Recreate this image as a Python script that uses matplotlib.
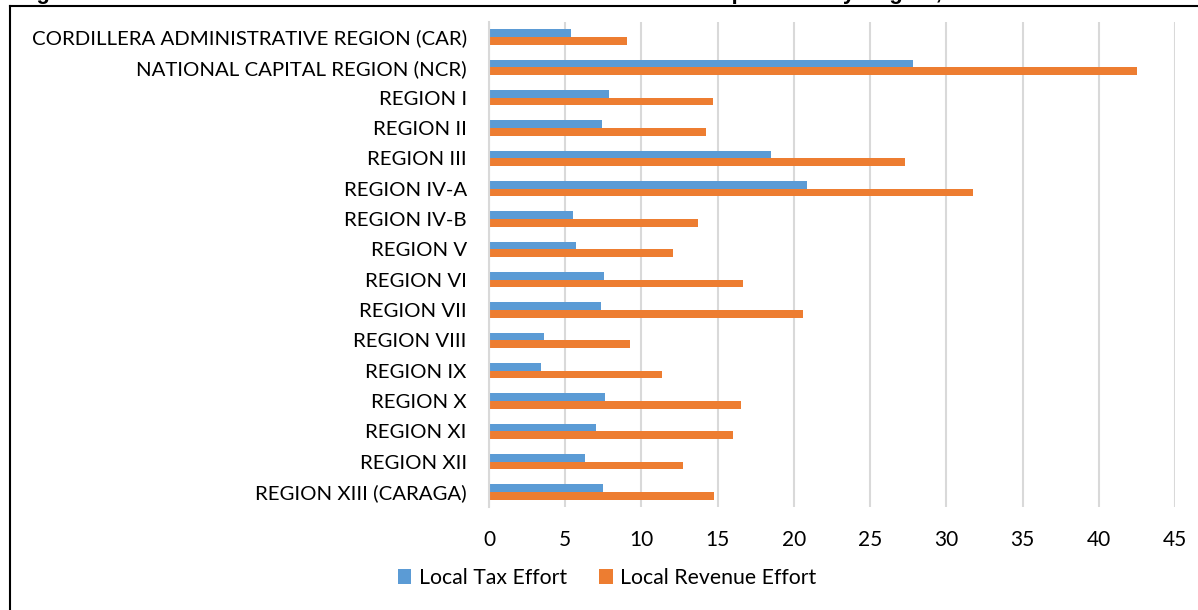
import matplotlib
matplotlib.use('Agg')
import matplotlib.pyplot as plt
from matplotlib.lines import Line2D
import numpy as np

regions = [
    "CORDILLERA ADMINISTRATIVE REGION (CAR)",
    "NATIONAL CAPITAL REGION (NCR)",
    "REGION I",
    "REGION II",
    "REGION III",
    "REGION IV-A",
    "REGION IV-B",
    "REGION V",
    "REGION VI",
    "REGION VII",
    "REGION VIII",
    "REGION IX",
    "REGION X",
    "REGION XI",
    "REGION XII",
    "REGION XIII (CARAGA)",
]
local_tax_effort = [5.36, 27.83, 7.89, 7.41, 18.49, 20.84, 5.53, 5.69,
                    7.56, 7.35, 3.58, 3.43, 7.59, 7.05, 6.30, 7.50]
local_revenue_effort = [9.04, 42.50, 14.67, 14.25, 27.26, 31.72, 13.70, 12.05,
                        16.66, 20.57, 9.28, 11.33, 16.54, 16.02, 12.71, 14.73]
x_ticks = [0, 5, 10, 15, 20, 25, 30, 35, 40, 45]
series_names = ["Local Tax Effort", "Local Revenue Effort"]
title = ("Figure 4. Mean Local Tax Effort and Mean Local Revenue Effort "
         "Comparisons by Region, 2016")

W, H = 1198, 610
plt.rcParams['font.family'] = ['Lato', 'DejaVu Sans']

fig = plt.figure(figsize=(W / 100, H / 100), dpi=100)
ax = fig.add_axes([489 / W, 1 - 507 / H, (1175 - 489) / W, (507 - 22) / H])

y = np.arange(len(regions))
h = 0.254
b1 = ax.barh(y - h / 2, local_tax_effort, height=h, color='#5B9BD5', label=series_names[0])
b2 = ax.barh(y + h / 2, local_revenue_effort, height=h, color='#ED7D31', label=series_names[1])

ax.set_ylim(len(regions) - 0.5, -0.5)
ax.set_xlim(0, 45)
ax.set_yticks(y, regions)
ax.set_xticks(x_ticks)
ax.grid(axis='x', color='#D9D9D9', linewidth=1.5)
ax.set_axisbelow(True)
for s in ['top', 'right', 'bottom']:
    ax.spines[s].set_visible(False)
ax.spines['left'].set_color('#D9D9D9')
ax.spines['left'].set_linewidth(1.5)
ax.tick_params(axis='both', length=0, labelsize=15, colors='black')
ax.tick_params(axis='y', pad=16, labelsize=14.7)
ax.tick_params(axis='x', pad=16.5)

fig.legend(handles=[b1, b2], loc='center', bbox_to_anchor=(607 / W, 1 - 578 / H),
           ncol=2, frameon=False, fontsize=15.3, handlelength=0.65, handleheight=0.65,
           handletextpad=0.35, columnspacing=1.5)

fig.text(17 / W, 1 + 1.5 / H, title, fontsize=15.8, fontweight='bold',
         family='Liberation Sans', va='baseline', ha='left')

fig.add_artist(Line2D([9.5 / W, 9.5 / W], [0, 1 - 5.5 / H], color='black', lw=1.5,
                      transform=fig.transFigure))
fig.add_artist(Line2D([9.5 / W, 1], [1 - 5.5 / H, 1 - 5.5 / H], color='black', lw=1.5,
                      transform=fig.transFigure))

fig.savefig('out.png', dpi=100)
